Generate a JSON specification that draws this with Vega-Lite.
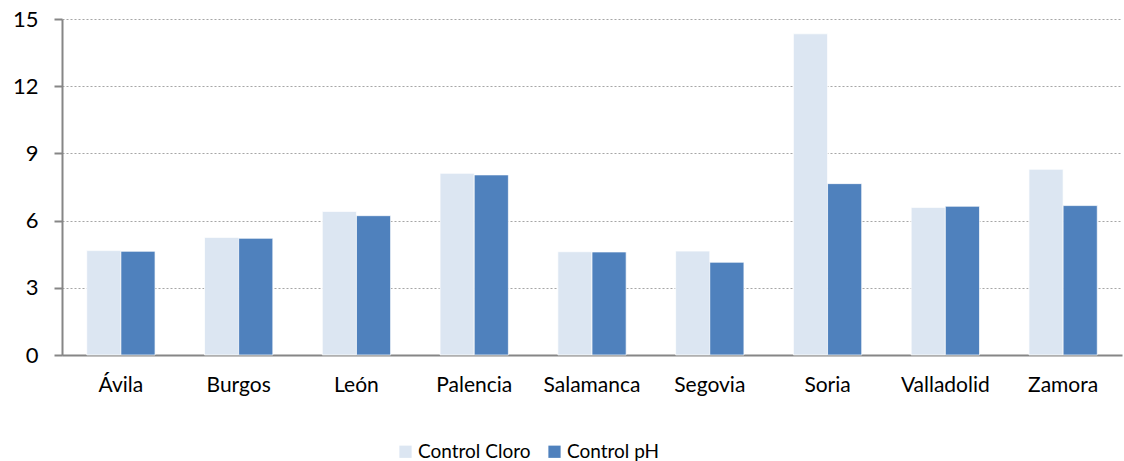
{
  "$schema": "https://vega.github.io/schema/vega-lite/v6.json",
  "width": 1060,
  "height": 336,
  "autosize": {"type": "none"},
  "padding": {"left": 62, "top": 19, "right": 2, "bottom": 106},
  "background": "white",
  "config": {
    "view": {"stroke": null},
    "font": "Lato"
  },
  "data": {
    "values": [
      {"provincia": "Ávila", "serie": "Control Cloro", "valor": 4.66},
      {"provincia": "Ávila", "serie": "Control pH", "valor": 4.63},
      {"provincia": "Burgos", "serie": "Control Cloro", "valor": 5.25},
      {"provincia": "Burgos", "serie": "Control pH", "valor": 5.21},
      {"provincia": "León", "serie": "Control Cloro", "valor": 6.41},
      {"provincia": "León", "serie": "Control pH", "valor": 6.22},
      {"provincia": "Palencia", "serie": "Control Cloro", "valor": 8.11},
      {"provincia": "Palencia", "serie": "Control pH", "valor": 8.04},
      {"provincia": "Salamanca", "serie": "Control Cloro", "valor": 4.61},
      {"provincia": "Salamanca", "serie": "Control pH", "valor": 4.6},
      {"provincia": "Segovia", "serie": "Control Cloro", "valor": 4.64},
      {"provincia": "Segovia", "serie": "Control pH", "valor": 4.14},
      {"provincia": "Soria", "serie": "Control Cloro", "valor": 14.34},
      {"provincia": "Soria", "serie": "Control pH", "valor": 7.65},
      {"provincia": "Valladolid", "serie": "Control Cloro", "valor": 6.59},
      {"provincia": "Valladolid", "serie": "Control pH", "valor": 6.64},
      {"provincia": "Zamora", "serie": "Control Cloro", "valor": 8.29},
      {"provincia": "Zamora", "serie": "Control pH", "valor": 6.67}
    ]
  },
  "mark": {"type": "bar", "stroke": "white", "strokeWidth": 0.7},
  "encoding": {
    "x": {
      "field": "provincia",
      "type": "nominal",
      "sort": null,
      "title": null,
      "scale": {"paddingInner": 0.42, "paddingOuter": 0.21},
      "axis": {
        "labelAngle": 0,
        "labelFontSize": 21,
        "labelColor": "#000000",
        "labelPadding": 19,
        "ticks": false,
        "domainColor": "#868686",
        "domainWidth": 2,
        "grid": false
      }
    },
    "xOffset": {"field": "serie", "type": "nominal", "scale": {"paddingInner": 0, "paddingOuter": 0}},
    "y": {
      "field": "valor",
      "type": "quantitative",
      "title": null,
      "scale": {"domain": [0, 15], "nice": false},
      "axis": {
        "values": [0, 3, 6, 9, 12, 15],
        "labelFontSize": 22,
        "labelColor": "#000000",
        "labelPadding": 16,
        "tickSize": 8,
        "tickColor": "#868686",
        "tickWidth": 2,
        "domainColor": "#868686",
        "domainWidth": 2,
        "gridColor": "#a6a6a6",
        "gridDash": [2, 2],
        "gridWidth": 1.2
      }
    },
    "color": {
      "field": "serie",
      "type": "nominal",
      "title": null,
      "scale": {"domain": ["Control Cloro", "Control pH"], "range": ["#DCE6F2", "#4F81BD"]},
      "legend": {
        "orient": "none",
        "direction": "horizontal",
        "legendX": 334,
        "legendY": 423,
        "symbolType": "square",
        "symbolSize": 150,
        "symbolStrokeWidth": 0,
        "labelFontSize": 19,
        "labelColor": "#000000",
        "labelOffset": 3,
        "columnPadding": 14
      }
    }
  }
}
